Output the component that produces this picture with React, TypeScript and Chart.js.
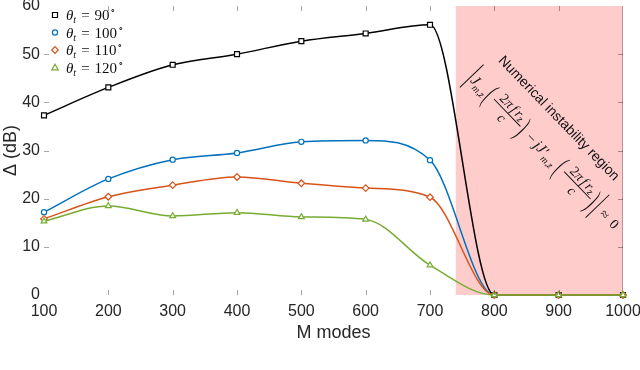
import React, { useEffect, useRef } from "react";
import { Chart, registerables } from "chart.js";

Chart.register(...registerables);

// ---- data ----
const modes = [100, 200, 300, 400, 500, 600, 700, 800, 900, 1000];
const delta90 = [37.3, 43.1, 47.8, 50.0, 52.7, 54.3, 56.1, 0, 0, 0];
const delta100 = [17.2, 24.1, 28.1, 29.5, 31.8, 32.1, 28.0, 0, 0, 0];
const delta110 = [15.8, 20.4, 22.8, 24.5, 23.2, 22.2, 20.3, 0, 0, 0];
const delta120 = [15.3, 18.5, 16.4, 17.1, 16.2, 15.7, 6.2, 0, 0, 0];
const thetaLabels = ["90", "100", "110", "120"];
const yTickValues = [0, 10, 20, 30, 40, 50, 60];
const instabilityStart = 740;
const instabilityEnd = 1000;
const regionTitle = "Numerical instability region";
const xTitle = "M modes";
const yTitle = "\u0394 (dB)";

const seriesValues = [delta90, delta100, delta110, delta120];
const seriesColors = ["#000000", "#0072BD", "#D95319", "#77AC30"];
const seriesMarkers = ["rect", "circle", "rectRot", "triangle"];
const seriesRadius = [3.5, 2.6, 3.3, 3.3];

const SANS = '"Liberation Sans", Arial, Helvetica, sans-serif';
const SERIF = '"Liberation Serif", "Times New Roman", serif';

function drawMarker(ctx: CanvasRenderingContext2D, style: string, x: number, y: number, color: string) {
  ctx.save();
  ctx.strokeStyle = color;
  ctx.lineWidth = 1.2;
  ctx.fillStyle = "#ffffff";
  ctx.beginPath();
  if (style === "rect") {
    ctx.rect(x - 2.5, y - 2.5, 5, 5);
  } else if (style === "circle") {
    ctx.arc(x, y, 2.6, 0, Math.PI * 2);
  } else if (style === "rectRot") {
    ctx.moveTo(x, y - 3.3);
    ctx.lineTo(x + 3.3, y);
    ctx.lineTo(x, y + 3.3);
    ctx.lineTo(x - 3.3, y);
    ctx.closePath();
  } else {
    ctx.moveTo(x, y - 3.2);
    ctx.lineTo(x + 3.2, y + 2.4);
    ctx.lineTo(x - 3.2, y + 2.4);
    ctx.closePath();
  }
  ctx.fill();
  ctx.stroke();
  ctx.restore();
}

function drawFormula(ctx: CanvasRenderingContext2D) {
  const it = (s: number) => `italic ${s}px ${SERIF}`;
  const rm = (s: number) => `${s}px ${SERIF}`;
  const text = (t: string, font: string, u: number, v: number, align: CanvasTextAlign = "left") => {
    ctx.font = font;
    ctx.textAlign = align;
    ctx.textBaseline = "alphabetic";
    ctx.fillText(t, u, v);
    return u + ctx.measureText(t).width;
  };
  const vbar = (u: number) => {
    ctx.beginPath();
    ctx.moveTo(u, -16.5);
    ctx.lineTo(u, 16.5);
    ctx.stroke();
  };
  const paren = (ch: string, u: number) => {
    ctx.save();
    ctx.translate(u, 0);
    ctx.scale(0.9, 2.3);
    ctx.font = rm(14);
    ctx.textAlign = "left";
    ctx.textBaseline = "middle";
    ctx.fillText(ch, 0, 0.5);
    ctx.restore();
  };
  const fraction = (u0: number, u1: number) => {
    const mid = (u0 + u1) / 2;
    ctx.beginPath();
    ctx.moveTo(u0, 0);
    ctx.lineTo(u1, 0);
    ctx.stroke();
    ctx.font = rm(14);
    const w2 = ctx.measureText("2").width;
    ctx.font = it(14);
    const wpi = ctx.measureText("\u03c0").width;
    const wf = ctx.measureText("f").width;
    const wr = ctx.measureText("r").width;
    ctx.font = it(10);
    const wz = ctx.measureText("z").width;
    const gap = 2;
    const total = w2 + wpi + gap + wf + gap + wr + wz;
    let u = mid - total / 2;
    u = text("2", rm(14), u, -3.5);
    u = text("\u03c0", it(14), u, -3.5) + gap;
    u = text("f", it(14), u, -3.5) + gap;
    u = text("r", it(14), u, -3.5);
    text("z", it(10), u, -1.5);
    text("c", it(14), mid, 12, "center");
  };

  ctx.lineWidth = 1;
  ctx.strokeStyle = "#111";
  ctx.fillStyle = "#111";
  vbar(0);
  let u = text("J", it(15), 2.5, 5);
  text("m,z", it(10), u - 0.5, 9);
  paren("(", 24);
  fraction(32, 70);
  paren(")", 71);
  text("\u2212", rm(15), 82, 5);
  u = text("jJ\u2032", it(15), 93, 5);
  text("m,z", it(10), u, 9);
  paren("(", 125);
  fraction(133, 171);
  paren(")", 172);
  vbar(181);
  text("\u2248", rm(14), 188, 5);
  text("0", rm(14), 202, 5);
}

const overlayPlugin = {
  id: "overlay",
  beforeDatasetsDraw(chart: any) {
    const { ctx, chartArea, scales } = chart;
    const x0 = scales.x.getPixelForValue(instabilityStart);
    const x1 = scales.x.getPixelForValue(instabilityEnd);
    ctx.save();
    ctx.fillStyle = "rgba(255, 0, 0, 0.2)";
    ctx.fillRect(x0, chartArea.top, x1 - x0, chartArea.bottom - chartArea.top);
    ctx.strokeStyle = "rgba(140, 110, 110, 0.6)";
    ctx.lineWidth = 1;
    ctx.beginPath();
    ctx.moveTo(Math.round(x1) - 0.5, chartArea.top);
    ctx.lineTo(Math.round(x1) - 0.5, chartArea.bottom);
    ctx.stroke();

    // rotated annotation
    const angle = (46 * Math.PI) / 180;
    const ox = x0 + 16;
    const oy = chartArea.top + 70;
    ctx.translate(ox, oy);
    ctx.rotate(angle);
    ctx.fillStyle = "#111";
    ctx.font = `14px ${SANS}`;
    ctx.textAlign = "center";
    ctx.textBaseline = "middle";
    ctx.fillText(regionTitle, 91, -33);
    drawFormula(ctx);
    ctx.restore();
  },
  afterDatasetsDraw(chart: any) {
    const { ctx, chartArea, scales } = chart;
    const { left, right, top, bottom } = chartArea;
    ctx.save();
    // inward tick marks
    ctx.strokeStyle = "rgba(0,0,0,0.35)";
    ctx.lineWidth = 1;
    ctx.beginPath();
    yTickValues.forEach((v) => {
      if (v === 0 || v === 60) return;
      const y = Math.round(scales.y.getPixelForValue(v)) + 0.5;
      ctx.moveTo(left, y);
      ctx.lineTo(left + 5, y);
      ctx.moveTo(right, y);
      ctx.lineTo(right - 5, y);
    });
    modes.forEach((m) => {
      if (m === 100 || m === 1000) return;
      const x = Math.round(scales.x.getPixelForValue(m)) + 0.5;
      ctx.moveTo(x, bottom);
      ctx.lineTo(x, bottom - 5);
      ctx.moveTo(x, top);
      ctx.lineTo(x, top + 5);
    });
    ctx.stroke();

    // legend
    const lx = left + 11;
    const tx = left + 22;
    thetaLabels.forEach((lab, i) => {
      const y = top + 9 + i * 17.5;
      drawMarker(ctx, seriesMarkers[i], lx, y, seriesColors[i]);
      ctx.fillStyle = "#111";
      ctx.textBaseline = "alphabetic";
      ctx.textAlign = "left";
      let x = tx;
      ctx.font = `italic 15px ${SERIF}`;
      ctx.fillText("\u03b8", x, y + 5);
      x += ctx.measureText("\u03b8").width;
      ctx.font = `italic 10px ${SERIF}`;
      ctx.fillText("t", x, y + 8);
      x += ctx.measureText("t").width + 5;
      ctx.font = `15px ${SERIF}`;
      ctx.fillText("=", x, y + 5);
      x += ctx.measureText("=").width + 5;
      ctx.fillText(lab, x, y + 5);
      x += ctx.measureText(lab).width;
      ctx.font = `9px ${SERIF}`;
      ctx.fillText("\u2218", x + 0.5, y - 1);
    });
    ctx.restore();
  },
};

export default function App() {
  const canvasRef = useRef<HTMLCanvasElement | null>(null);

  useEffect(() => {
    const canvas = canvasRef.current;
    if (!canvas) return;
    const datasets = seriesValues.map((vals, i) => ({
      label: thetaLabels[i],
      data: modes.map((m, j) => ({ x: m, y: vals[j] })),
      borderColor: seriesColors[i],
      backgroundColor: seriesColors[i],
      borderWidth: 1.5,
      pointStyle: seriesMarkers[i],
      pointRadius: seriesRadius[i],
      pointBorderWidth: 1.2,
      pointBorderColor: seriesColors[i],
      pointBackgroundColor: "#ffffff",
      cubicInterpolationMode: "monotone" as const,
      fill: false,
      clip: false as any,
      order: 3 - i,
    }));

    const tickFont = { family: SANS, size: 16 };
    const titleFont = { family: SANS, size: 18 };

    const chart = new Chart(canvas, {
      type: "line",
      data: { datasets },
      options: {
        animation: false,
        responsive: false,
        maintainAspectRatio: false,
        layout: { padding: { top: 6, right: 17, bottom: 0, left: 0 } },
        plugins: {
          legend: { display: false },
          tooltip: { enabled: false },
          title: { display: false },
        },
        scales: {
          x: {
            type: "linear",
            min: 100,
            max: 1000,
            grid: { display: false, drawTicks: false },
            border: { display: false },
            ticks: {
              stepSize: 100,
              autoSkip: false,
              maxRotation: 0,
              padding: 7,
              font: tickFont,
              color: "#262626",
              callback: (v: any) => String(v),
            },
            title: {
              display: true,
              text: xTitle,
              font: titleFont,
              color: "#262626",
              padding: { top: 0, bottom: 26 },
            },
            afterFit: (scale: any) => {
              scale.height = 75;
              scale.paddingLeft = 0;
              scale.paddingRight = 0;
            },
          },
          y: {
            type: "linear",
            min: 0,
            max: 60,
            grid: { display: false, drawTicks: false },
            border: { display: false },
            ticks: {
              stepSize: 10,
              padding: 4,
              font: tickFont,
              color: "#262626",
              callback: (v: any) => String(v),
            },
            title: {
              display: true,
              text: yTitle,
              font: titleFont,
              color: "#262626",
              padding: { top: 0, bottom: 0 },
            },
            afterFit: (scale: any) => {
              scale.width = 44;
              scale.paddingTop = 0;
              scale.paddingBottom = 0;
            },
          },
        },
      },
      plugins: [overlayPlugin],
    });
    return () => chart.destroy();
  }, []);

  return (
    <div style={{ position: "fixed", left: 0, top: 0, width: 640, height: 370, background: "#fff" }}>
      <canvas ref={canvasRef} width={640} height={370} style={{ width: 640, height: 370, display: "block" }} />
    </div>
  );
}
